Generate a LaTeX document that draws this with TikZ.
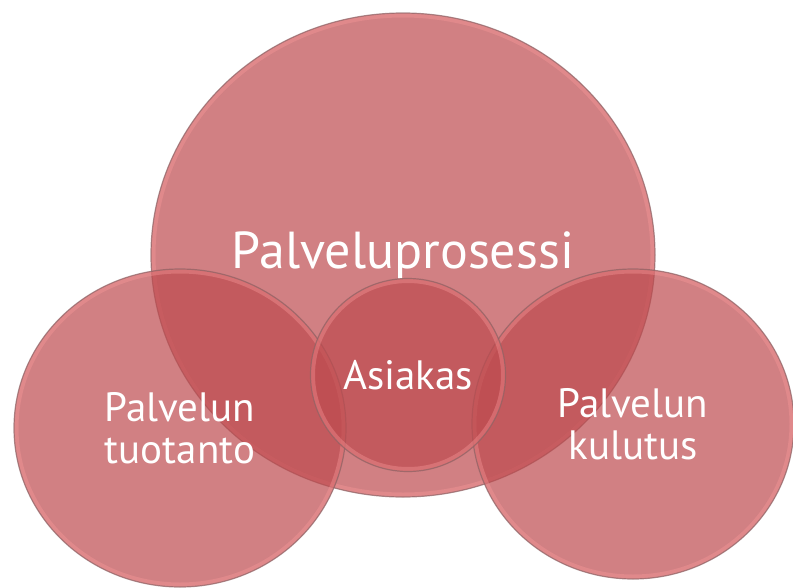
\documentclass[tikz,border=0pt]{standalone}
\usepackage{fontspec}
\setmainfont{PT Sans}
\usetikzlibrary{shapes.geometric}

\definecolor{bubblefill}{RGB}{189,74,78}
\definecolor{bubblerim}{RGB}{140,98,100}
\definecolor{glowpink}{RGB}{248,150,152}

\tikzset{
  bubble/.style={ellipse, inner sep=0pt, fill=bubblefill, fill opacity=0.7,
    draw=bubblerim, draw opacity=0.7, line width=1.2pt,
    text=white, text opacity=1, align=center,
    path picture={\draw[draw=glowpink, line width=9pt, opacity=0.4]
      (path picture bounding box.center)
      ellipse [x radius=0.5*\pgfkeysvalueof{/pgf/minimum width},
               y radius=0.5*\pgfkeysvalueof{/pgf/minimum height}];}},
}

\begin{document}
\begin{tikzpicture}[x=1pt, y=-1pt]
  \useasboundingbox (0,0) rectangle (793,587);

  \node[bubble, minimum width=504pt, minimum height=484pt,
        font=\fontsize{52}{56}\selectfont]   (prosessi) at (403,255) {Palveluprosessi};
  \node[bubble, minimum width=332pt, minimum height=318pt,
        font=\fontsize{41}{42}\selectfont]   (tuotanto) at (180,428) {Palvelun\\tuotanto};
  \node[bubble, minimum width=322pt, minimum height=310pt,
        font=\fontsize{41}{42}\selectfont]   (kulutus)  at (633,424) {Palvelun\\kulutus};
  \node[bubble, minimum width=195pt, minimum height=193pt,
        font=\fontsize{41}{44}\selectfont]   (asiakas)  at (408,375) {Asiakas};
\end{tikzpicture}
\end{document}
